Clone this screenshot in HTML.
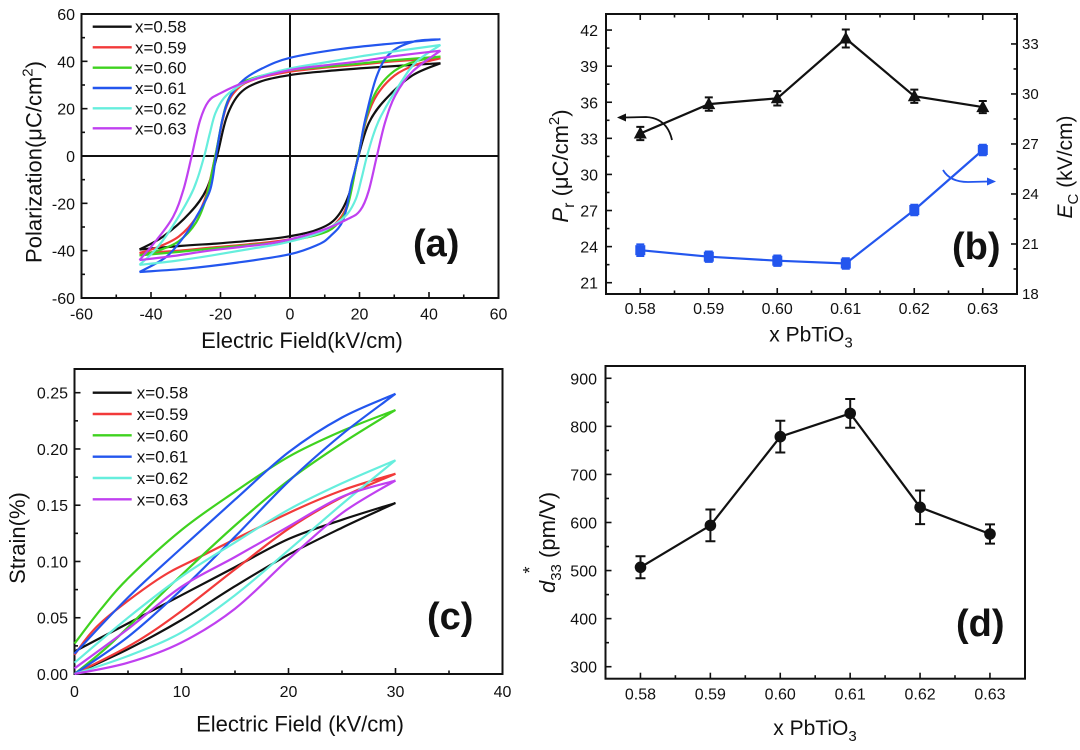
<!DOCTYPE html>
<html><head><meta charset="utf-8">
<style>
html,body{margin:0;padding:0;background:#fff;}
svg{display:block;}
text{font-family:"Liberation Sans",Arial,sans-serif;fill:#111;}
.t{font-size:16px;}
.lg{font-size:17px;}
.ti{font-size:22px;}
.pl{font-size:38px;font-weight:bold;}
.sr{font-family:"Liberation Serif","Times New Roman",serif;font-size:15px;fill:#333;}
</style></head><body>
<svg id="s" width="1080" height="750" viewBox="0 0 1080 750" xmlns="http://www.w3.org/2000/svg">
<rect width="1080" height="750" fill="#fff"/>
<g fill="none" stroke="#111" stroke-width="2">
<rect x="81.5" y="14" width="417" height="284"/>
<line x1="290" y1="14" x2="290" y2="298"/>
<line x1="81.5" y1="156" x2="498.5" y2="156"/>
<rect x="606" y="14" width="411" height="280"/>
<rect x="74.5" y="369" width="428" height="305"/>
<rect x="605.5" y="366" width="419.5" height="312.7"/>
</g>
<g id="dyn"></g>

<!-- Panel A text -->
<g class="t" text-anchor="end">
<text x="75" y="20">60</text><text x="75" y="67.3">40</text><text x="75" y="114.7">20</text><text x="75" y="162">0</text><text x="75" y="209.3">-20</text><text x="75" y="256.7">-40</text><text x="75" y="304">-60</text>
</g>
<g class="t" text-anchor="middle">
<text x="81.5" y="319.5">-60</text><text x="151" y="319.5">-40</text><text x="220.5" y="319.5">-20</text><text x="290" y="319.5">0</text><text x="359.5" y="319.5">20</text><text x="429" y="319.5">40</text><text x="498.5" y="319.5">60</text>
</g>
<text class="ti" x="302" y="348" text-anchor="middle">Electric Field(kV/cm)</text>
<text class="ti" transform="translate(41.5,162) rotate(-90)" text-anchor="middle">Polarization(μC/cm<tspan dy="-9" font-size="15">2</tspan><tspan dy="9">)</tspan></text>
<g class="lg">
<text x="135" y="32.7">x=0.58</text><text x="135" y="53.3">x=0.59</text><text x="135" y="73.7">x=0.60</text><text x="135" y="94">x=0.61</text><text x="135" y="114.3">x=0.62</text><text x="135" y="134.3">x=0.63</text>
</g>
<text class="pl" x="413" y="256">(a)</text>

<!-- Panel B text -->
<g class="t" text-anchor="end">
<text x="598" y="288.7">21</text><text x="598" y="252.6">24</text><text x="598" y="216.5">27</text><text x="598" y="180.4">30</text><text x="598" y="144.3">33</text><text x="598" y="108.3">36</text><text x="598" y="72.2">39</text><text x="598" y="36.1">42</text>
</g>
<g class="sr">
<text x="1022" y="299">18</text><text x="1022" y="249">21</text><text x="1022" y="199">24</text><text x="1022" y="149">27</text><text x="1022" y="99">30</text><text x="1022" y="49">33</text>
</g>
<g class="t" text-anchor="middle">
<text x="640.25" y="314">0.58</text><text x="708.75" y="314">0.59</text><text x="777.25" y="314">0.60</text><text x="845.75" y="314">0.61</text><text x="914.25" y="314">0.62</text><text x="982.75" y="314">0.63</text>
</g>
<text x="811" y="341.5" text-anchor="middle" style="font-size:21px">x PbTiO<tspan dy="6" font-size="15">3</tspan></text>
<text transform="translate(568,166) rotate(-90)" text-anchor="middle" style="font-size:22px"><tspan font-style="italic">P</tspan><tspan dy="6" font-size="16">r</tspan><tspan dy="-6"> (μC/cm</tspan><tspan dy="-9" font-size="15">2</tspan><tspan dy="9">)</tspan></text>
<text transform="translate(1072,167) rotate(-90)" text-anchor="middle" style="font-size:21px"><tspan font-style="italic">E</tspan><tspan dy="6" font-size="15">C</tspan><tspan dy="-6"> (kV/cm)</tspan></text>
<text class="pl" x="952" y="259">(b)</text>

<!-- Panel C text -->
<g class="t" text-anchor="end">
<text x="68" y="680">0.00</text><text x="68" y="623.7">0.05</text><text x="68" y="567.5">0.10</text><text x="68" y="511.2">0.15</text><text x="68" y="455">0.20</text><text x="68" y="398.7">0.25</text>
</g>
<g class="t" text-anchor="middle">
<text x="74.5" y="697">0</text><text x="181.5" y="697">10</text><text x="288.5" y="697">20</text><text x="395.5" y="697">30</text><text x="502.5" y="697">40</text>
</g>
<text class="ti" x="300" y="731.5" text-anchor="middle">Electric Field (kV/cm)</text>
<text class="ti" transform="translate(25,538) rotate(-90)" text-anchor="middle">Strain(%)</text>
<g class="lg">
<text x="136.7" y="398.7">x=0.58</text><text x="136.7" y="420">x=0.59</text><text x="136.7" y="441.3">x=0.60</text><text x="136.7" y="462.7">x=0.61</text><text x="136.7" y="484">x=0.62</text><text x="136.7" y="505.3">x=0.63</text>
</g>
<text class="pl" x="427" y="629">(c)</text>

<!-- Panel D text -->
<g class="t" text-anchor="end">
<text x="597" y="384.3">900</text><text x="597" y="432.4">800</text><text x="597" y="480.5">700</text><text x="597" y="528.6">600</text><text x="597" y="576.6">500</text><text x="597" y="624.6">400</text><text x="597" y="672.7">300</text>
</g>
<g class="t" text-anchor="middle">
<text x="640.45" y="699.5">0.58</text><text x="710.35" y="699.5">0.59</text><text x="780.25" y="699.5">0.60</text><text x="850.15" y="699.5">0.61</text><text x="920.05" y="699.5">0.62</text><text x="989.95" y="699.5">0.63</text>
</g>
<text x="815" y="735" text-anchor="middle" style="font-size:21px">x PbTiO<tspan dy="6" font-size="15">3</tspan></text>
<text transform="translate(555,542.5) rotate(-90)" text-anchor="middle" style="font-size:22px"><tspan font-style="italic">d</tspan><tspan dy="6" font-size="15">33</tspan><tspan dy="-6"> (pm/V)</tspan></text>
<text transform="translate(536,570) rotate(-90)" text-anchor="middle" style="font-size:18px">*</text>
<text class="pl" x="956" y="636">(d)</text>
</svg>
<script>
(function(){
const NS='http://www.w3.org/2000/svg';
const dyn=document.getElementById('dyn');
function el(tag,a){const e=document.createElementNS(NS,tag);for(const k in a)e.setAttribute(k,a[k]);dyn.appendChild(e);return e;}
function f(v){return v.toFixed(1);}
function cr(p){
  let d='M'+f(p[0][0])+' '+f(p[0][1]);
  for(let i=0;i<p.length-1;i++){
    const p0=p[Math.max(i-1,0)],p1=p[i],p2=p[i+1],p3=p[Math.min(i+2,p.length-1)];
    const c1=[p1[0]+(p2[0]-p0[0])/6,p1[1]+(p2[1]-p0[1])/6];
    const c2=[p2[0]-(p3[0]-p1[0])/6,p2[1]-(p3[1]-p1[1])/6];
    d+=' C'+f(c1[0])+' '+f(c1[1])+' '+f(c2[0])+' '+f(c2[1])+' '+f(p2[0])+' '+f(p2[1]);
  }
  return d;
}
function tk(x1,y1,x2,y2){el('line',{x1:x1,y1:y1,x2:x2,y2:y2,stroke:'#111','stroke-width':1.6});}
const COL=['#111111','#f23a3a','#3fd21f','#2356ee','#66eedd','#c040f0'];

/* ---------- Panel A ---------- */
const AX=E=>290+E*3.475, AY=P=>156-P*2.3667;
for(let E=-50;E<=50;E+=10){const l=(E%20===0)?6:3.5;tk(AX(E),298,AX(E),298-l);}
for(let P=-50;P<=50;P+=10){const l=(P%20===0)?6:3.5;tk(81.5,AY(P),81.5+l,AY(P));}
const A=[
 {s:-1.3,u:[[43.3,39.2],[30,38],[20,37],[10,35.8],[0,34.2],[-8.6,31.4],[-14.4,26.5],[-18.2,16.6],[-21,0],[-24,-14],[-28.8,-24],[-36.5,-34],[-43.3,-39.5]]},
 {s:-1.9,u:[[43.3,41.3],[30,40],[20,38.6],[10,37.3],[0,35.6],[-10,32.5],[-15,28.5],[-18.5,20],[-21.5,0],[-24,-16],[-27,-26],[-32,-34],[-38,-38.5],[-43.3,-41]]},
 {s:-1.9,u:[[43.3,42],[30,40.5],[20,39],[10,37.7],[0,36.2],[-10,33.2],[-15,29.5],[-18.5,21],[-21.5,0],[-24,-17],[-27,-28],[-32,-36],[-38,-40],[-43.3,-42]]},
 {s:-1.6,u:[[43.3,49.3],[30,47.6],[15,45.3],[0,41.5],[-8,37],[-13.5,32],[-17.3,25],[-19.5,15],[-21.3,0],[-23,-14.4],[-26.9,-25.6],[-30,-33],[-35.5,-42.5],[-43.3,-49]],
  l:[[-43.3,-49],[-30,-47.6],[-15,-45],[0,-41.5],[8,-37.5],[11.5,-34],[15.3,-27],[17.7,-11.5],[19.7,0],[21.6,15.2],[24.9,33.5],[28.8,43.4],[35.5,48.3],[43.3,49.3]]},
 {s:-2.5,u:[[43.3,46.9],[30,44.2],[20,42],[10,39.5],[0,37],[-10,33],[-15.3,29],[-19,24.5],[-21.5,18],[-23,10],[-24.5,1],[-26.5,-9],[-28.8,-17.2],[-34.5,-31.3],[-39,-40],[-43.3,-46]]},
 {s:-3.3,u:[[43.3,44.5],[30,42.2],[20,40],[10,38.3],[0,36.3],[-12.5,31.4],[-20.1,26.5],[-23.5,23],[-25.9,15],[-28.3,0],[-30.7,-14.4],[-33.6,-25.6],[-38.4,-35.5],[-43.3,-44]]}
];
A.forEach((c,ci)=>{
  const u=c.u,n=u.length;
  let lo;
  if(c.l){lo=c.l;}else{
    lo=[u[n-1]];
    for(let i=1;i<=n-2;i++)lo.push([-u[i][0]+c.s,-u[i][1]]);
    lo.push(u[0]);
  }
  const up=u.map(p=>[AX(p[0]),AY(p[1])]);
  const lw=lo.map(p=>[AX(p[0]),AY(p[1])]);
  el('path',{d:cr(up)+' '+cr(lw),fill:'none',stroke:COL[ci],'stroke-width':2.2,'stroke-linejoin':'round'});
});
[26.7,47.3,67.7,88,108.3,128.3].forEach((y,i)=>{el('line',{x1:92.7,y1:y,x2:131.7,y2:y,stroke:COL[i],'stroke-width':2.4});});

/* ---------- Panel B ---------- */
const BX=v=>606+(v-0.575)*6850, BY=v=>282.7-(v-21)*12.03, BR=u=>294-(u-18)*16.67;
for(let k=1;k<=11;k++){const v=0.575+0.005*k,l=(k%2===1)?6:3.5;tk(BX(v),294,BX(v),294-l);tk(BX(v),14,BX(v),14+l);}
for(let j=0;j<=14;j++){const v=21+1.5*j,l=(j%2===0)?6:3.5;tk(606,BY(v),606+l,BY(v));}
for(let j=1;j<=11;j++){const u=18+1.5*j,l=(j%2===0)?6:3.5;tk(1017,BR(u),1017-l,BR(u));}
const xs=[0.58,0.59,0.60,0.61,0.62,0.63];
const bk=[33.4,35.85,36.33,41.3,36.5,35.6],bke=[0.55,0.55,0.6,0.75,0.55,0.5];
const bl=[23.7,23.16,22.83,22.6,27.04,32.03],ble=[0.4,0.35,0.35,0.35,0.35,0.35];
el('polyline',{points:xs.map((x,i)=>f(BX(x))+','+f(BY(bk[i]))).join(' '),fill:'none',stroke:'#111','stroke-width':2.2});
el('polyline',{points:xs.map((x,i)=>f(BX(x))+','+f(BY(bl[i]))).join(' '),fill:'none',stroke:'#2356ee','stroke-width':2.2});
xs.forEach((x,i)=>{
  const X=BX(x);
  let y1=BY(bk[i]+bke[i]),y2=BY(bk[i]-bke[i]);
  el('path',{d:'M'+f(X)+' '+f(y1)+'V'+f(y2)+'M'+f(X-4)+' '+f(y1)+'H'+f(X+4)+'M'+f(X-4)+' '+f(y2)+'H'+f(X+4),stroke:'#111','stroke-width':2,fill:'none'});
  const Y=BY(bk[i]);
  el('polygon',{points:f(X)+','+f(Y-7)+' '+f(X-6.5)+','+f(Y+5)+' '+f(X+6.5)+','+f(Y+5),fill:'#111'});
  y1=BY(bl[i]+ble[i]);y2=BY(bl[i]-ble[i]);
  el('path',{d:'M'+f(X)+' '+f(y1-1)+'V'+f(y2+1)+'M'+f(X-4)+' '+f(y1-1)+'H'+f(X+4)+'M'+f(X-4)+' '+f(y2+1)+'H'+f(X+4),stroke:'#2356ee','stroke-width':2,fill:'none'});
  const Yb=BY(bl[i]);
  el('rect',{x:f(X-5),y:f(Yb-5),width:10,height:10,fill:'#2356ee'});
});
el('path',{d:'M672 140 Q667 118 646 117 L624 117.5',fill:'none',stroke:'#111','stroke-width':1.8});
el('polygon',{points:'617,117.5 626,113.5 626,121.5',fill:'#111'});
el('path',{d:'M943 170 Q950 182 968 182 L989 181.5',fill:'none',stroke:'#2356ee','stroke-width':1.8});
el('polygon',{points:'996,181.5 987,177.5 987,185.5',fill:'#2356ee'});

/* ---------- Panel C ---------- */
const CX=E=>74.5+E*10.7, CY=S=>674-S*1125.2;
for(let E=5;E<=35;E+=5){const l=(E%10===0)?6:3.5;tk(CX(E),674,CX(E),674-l);}
for(let j=1;j<=10;j++){const S=0.025*j,l=(j%2===0)?6:3.5;tk(74.5,CY(S),74.5+l,CY(S));}
const C=[
 {lo:[[0,0],[5,0.022],[10,0.048],[15,0.078],[20,0.106],[25,0.13],[30,0.152]],up:[[30,0.152],[25,0.137],[20,0.12],[15,0.095],[10,0.07],[5,0.045],[0,0.02]]},
 {lo:[[0,0],[5.5,0.027],[10,0.056],[15,0.093],[20,0.129],[25,0.157],[30,0.178]],up:[[30,0.178],[25.1,0.1635],[20,0.143],[11.7,0.104],[7.7,0.0835],[2.4,0.045],[0,0.017]]},
 {lo:[[0,0],[3.3,0.026],[7.7,0.067],[10,0.088],[15,0.132],[20,0.172],[25,0.205],[30,0.2346]],up:[[30,0.2346],[25,0.216],[20,0.193],[15,0.162],[10,0.128],[5,0.085],[2.5,0.058],[0,0.027]]},
 {lo:[[0,0],[5,0.033],[10,0.075],[15,0.122],[20,0.171],[25,0.213],[30,0.249]],up:[[30,0.249],[25,0.228],[20,0.197],[15,0.155],[10,0.112],[5,0.068],[0,0.018]]},
 {lo:[[0,0],[5,0.016],[10,0.037],[15,0.07],[20,0.11],[25,0.151],[30,0.19]],up:[[30,0.19],[25,0.1695],[20,0.146],[15,0.117],[10,0.0865],[5,0.05],[0,0.01]]},
 {lo:[[0,0],[5,0.01],[10,0.028],[15,0.058],[20,0.102],[25,0.143],[30,0.172]],up:[[30,0.172],[25,0.1576],[20,0.131],[15,0.104],[10,0.0776],[5,0.04],[0,0.005]]}
];
C.forEach((c,ci)=>{
  const a=c.lo.map(p=>[CX(p[0]),CY(p[1])]),b=c.up.map(p=>[CX(p[0]),CY(p[1])]);
  el('path',{d:cr(a)+' '+cr(b),fill:'none',stroke:COL[ci],'stroke-width':2.2,'stroke-linejoin':'round'});
});
[392.7,414,435.3,456.7,478,499.3].forEach((y,i)=>{el('line',{x1:92.7,y1:y,x2:131.7,y2:y,stroke:COL[i],'stroke-width':2.4});});

/* ---------- Panel D ---------- */
const DX=v=>605.5+(v-0.575)*6990, DY=d=>666.7-(d-300)*0.4807;
for(let k=1;k<=11;k++){const v=0.575+0.005*k,l=(k%2===1)?6:3.5;tk(DX(v),678.7,DX(v),678.7-l);}
for(let d=300;d<=900;d+=50){const l=(d%100===0)?6:3.5;tk(605.5,DY(d),605.5+l,DY(d));}
const dv=[506.8,594,778.5,827,631.6,576],de=[23,33,33,30,35,20];
el('polyline',{points:xs.map((x,i)=>f(DX(x))+','+f(DY(dv[i]))).join(' '),fill:'none',stroke:'#111','stroke-width':2.2});
xs.forEach((x,i)=>{
  const X=DX(x),y1=DY(dv[i]+de[i]),y2=DY(dv[i]-de[i]);
  el('path',{d:'M'+f(X)+' '+f(y1)+'V'+f(y2)+'M'+f(X-5)+' '+f(y1)+'H'+f(X+5)+'M'+f(X-5)+' '+f(y2)+'H'+f(X+5),stroke:'#111','stroke-width':2,fill:'none'});
  el('circle',{cx:f(X),cy:f(DY(dv[i])),r:5.8,fill:'#111'});
});
})();
</script>
</body></html>
